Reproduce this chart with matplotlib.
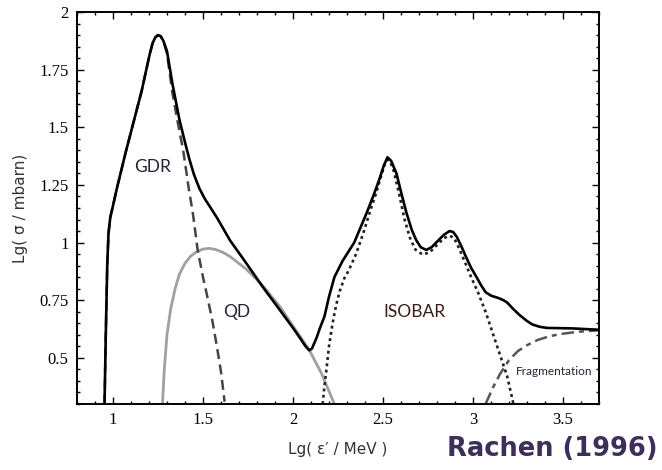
import numpy as np
import matplotlib.pyplot as plt
from matplotlib.ticker import MultipleLocator, FixedLocator

# photo-nuclear cross section components, lg(eps'/MeV) vs lg(sigma/mbarn)
x_tot = [0.953, 0.96, 0.968, 0.975, 0.985, 1.00, 1.02, 1.045, 1.07, 1.10, 1.13, 1.16,
         1.185, 1.205, 1.22, 1.235, 1.25, 1.265, 1.28, 1.30, 1.33, 1.37, 1.40, 1.425,
         1.45, 1.48, 1.51, 1.535, 1.58, 1.65, 1.75, 1.83, 1.92, 2.00, 2.04, 2.07, 2.09,
         2.105, 2.13, 2.15, 2.175, 2.20, 2.23, 2.275, 2.34, 2.41, 2.45, 2.48, 2.505,
         2.525, 2.545, 2.575, 2.60, 2.63, 2.66, 2.685, 2.71, 2.74, 2.77, 2.795, 2.84,
         2.87, 2.89, 2.91, 2.935, 2.96, 2.99, 3.02, 3.045, 3.07, 3.10, 3.14, 3.17, 3.19,
         3.22, 3.26, 3.30, 3.33, 3.37, 3.41, 3.55, 3.70]
y_tot = [0.30, 0.60, 0.90, 1.04, 1.11, 1.16, 1.23, 1.31, 1.39, 1.48, 1.57, 1.66,
         1.75, 1.82, 1.865, 1.89, 1.90, 1.895, 1.875, 1.83, 1.69, 1.53, 1.435, 1.36,
         1.295, 1.235, 1.19, 1.16, 1.105, 1.01, 0.90, 0.81, 0.715, 0.63, 0.585, 0.55, 0.533,
         0.54, 0.585, 0.63, 0.68, 0.765, 0.85, 0.92, 1.00, 1.13, 1.21, 1.275, 1.335,
         1.37, 1.355, 1.30, 1.22, 1.13, 1.055, 1.01, 0.98, 0.968, 0.98, 1.00, 1.035,
         1.05, 1.046, 1.025, 0.985, 0.94, 0.89, 0.85, 0.815, 0.785, 0.77, 0.76, 0.75, 0.74,
         0.715, 0.685, 0.66, 0.645, 0.635, 0.63, 0.628, 0.622]

x_gdr = [0.953, 0.96, 0.968, 0.975, 0.985, 1.00, 1.02, 1.045, 1.07, 1.10, 1.13, 1.16,
         1.185, 1.205, 1.22, 1.235, 1.25, 1.265, 1.28, 1.30, 1.33, 1.36, 1.39, 1.42,
         1.445, 1.47, 1.50, 1.52, 1.55, 1.575, 1.60, 1.62]
y_gdr = [0.30, 0.60, 0.90, 1.04, 1.11, 1.16, 1.23, 1.31, 1.39, 1.48, 1.57, 1.66,
         1.75, 1.82, 1.865, 1.89, 1.90, 1.895, 1.875, 1.82, 1.65, 1.52, 1.40, 1.24,
         1.12, 0.97, 0.85, 0.78, 0.67, 0.56, 0.44, 0.31]

x_qd = [1.275, 1.285, 1.30, 1.32, 1.345, 1.37, 1.40, 1.43, 1.46, 1.50, 1.535, 1.57,
        1.61, 1.65, 1.74, 1.83, 1.93, 2.02, 2.09, 2.16, 2.23]
y_qd = [0.30, 0.45, 0.60, 0.71, 0.80, 0.865, 0.91, 0.94, 0.958, 0.972, 0.975, 0.97,
        0.958, 0.94, 0.885, 0.815, 0.72, 0.615, 0.535, 0.43, 0.30]

x_iso = [2.165, 2.175, 2.186, 2.20, 2.22, 2.24, 2.26, 2.285, 2.31, 2.35, 2.39, 2.43,
         2.46, 2.49, 2.51, 2.525, 2.54, 2.56, 2.59, 2.62, 2.65, 2.68, 2.72, 2.76,
         2.80, 2.84, 2.87, 2.895, 2.92, 2.95, 2.99, 3.03, 3.07, 3.10, 3.13, 3.16,
         3.19, 3.225]
y_iso = [0.30, 0.38, 0.45, 0.55, 0.65, 0.73, 0.79, 0.845, 0.88, 0.95, 1.04, 1.14,
         1.21, 1.29, 1.34, 1.36, 1.35, 1.31, 1.21, 1.10, 1.02, 0.97, 0.948, 0.958,
         0.99, 1.02, 1.03, 1.02, 0.98, 0.925, 0.85, 0.78, 0.70, 0.63, 0.56, 0.49,
         0.42, 0.30]

x_frag = [3.07, 3.11, 3.15, 3.20, 3.25, 3.30, 3.36, 3.43, 3.50, 3.58, 3.70]
y_frag = [0.30, 0.37, 0.43, 0.49, 0.53, 0.555, 0.578, 0.595, 0.605, 0.613, 0.62]

fig = plt.figure(figsize=(6.62, 4.70), dpi=100)
ax = fig.add_axes([0.1163, 0.1404, 0.7885, 0.834])

ax.plot(x_qd, y_qd, color='#a0a0a0', lw=2.0)
ax.plot(x_gdr, y_gdr, color='#444444', lw=1.8, dashes=(4, 2.2))
ax.plot(x_iso, y_iso, color='#222222', lw=1.9, dashes=(1.1, 1.3))
ax.plot(x_frag, y_frag, color='#555555', lw=1.8, dashes=(5, 2, 2, 2))
ax.plot(x_tot, y_tot, color='black', lw=1.9, solid_joinstyle='round')

ax.set_xlim(0.8, 3.7)
ax.set_ylim(0.3, 2.0)
ax.xaxis.set_major_locator(FixedLocator([1, 1.5, 2, 2.5, 3, 3.5]))
ax.xaxis.set_minor_locator(MultipleLocator(0.1))
ax.yaxis.set_major_locator(FixedLocator([0.5, 0.75, 1, 1.25, 1.5, 1.75, 2]))
ax.yaxis.set_minor_locator(MultipleLocator(0.05))
ax.set_xticklabels(['1', '1.5', '2', '2.5', '3', '3.5'], fontfamily='Liberation Serif')
ax.set_yticklabels(['0.5', '0.75', '1', '1.25', '1.5', '1.75', '2'], fontfamily='Liberation Serif')
ax.tick_params(which='both', direction='in', top=True, right=True, width=1.0)
ax.tick_params(which='major', length=5, labelsize=12, pad=6)
ax.tick_params(which='minor', length=2.5)
for s in ax.spines.values():
    s.set_linewidth(1.4)

ax.set_xlabel("Lg( \u03b5\u2032 / MeV )", fontsize=11, family='DejaVu Sans', labelpad=10, color='#333333')
ax.set_ylabel("Lg( \u03c3 / mbarn)", fontsize=11, family='DejaVu Sans', labelpad=8, color='#333333')

ax.text(1.22, 1.33, 'GDR', fontsize=12.5, family='Lato', color='#222233', ha='center', va='center')
ax.text(1.686, 0.70, 'QD', fontsize=12.5, family='Lato', color='#222233', ha='center', va='center')
ax.text(2.675, 0.70, 'ISOBAR', fontsize=12.5, family='Lato', color='#3a1a1a', ha='center', va='center')
ax.text(3.45, 0.44, 'Fragmentation', fontsize=8.5, family='Lato', color='#222233', ha='center', va='center')

fig.text(0.834, 0.045, 'Rachen (1996)', fontsize=18.5, fontweight='bold', family='DejaVu Sans',
         color='#3d2e5a', ha='center', va='center')

fig.savefig('out.png', dpi=100)
